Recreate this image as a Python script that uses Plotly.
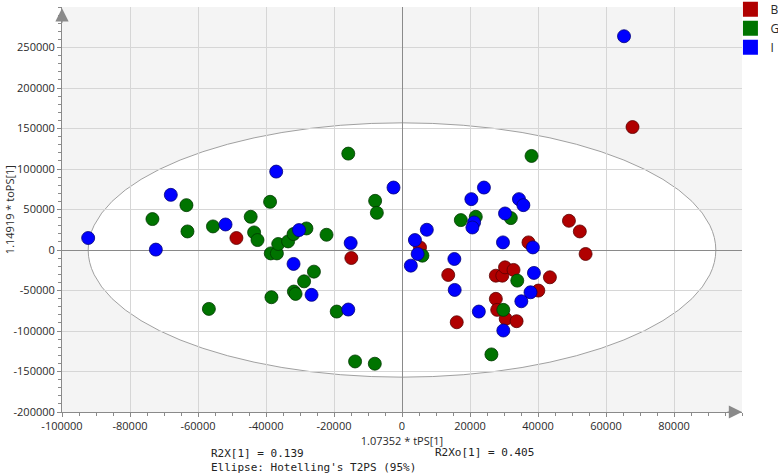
import plotly.graph_objects as go

# ---- data ----
groups = ["B", "G", "I"]
colors = {"B": "#b00000", "G": "#007400", "I": "#0000ff"}
edge_colors = {"B": "#5a0000", "G": "#003800", "I": "#00007a"}

B_x = [67800, -48700, -14900, 49100, 52300, 37200, 54000, 5300, 13600, 27600,
       29500, 30300, 32800, 43500, 40100, 27600, 28000, 30500, 33700, 16100]
B_y = [151800, 14800, -9900, 36100, 22900, 9400, -4900, 3200, -30800, -31700,
       -31700, -21400, -24600, -33700, -50100, -60300, -73900, -85000, -87900, -89200]

G_x = [-63400, -73400, -63100, -55600, -44500, -43500, -42500, -38800, -38600, -36800,
       -36400, -33500, -31900, -28100, -22200, -15800, -7900, -7400, -25900, -28800,
       -31800, -31300, -38400, -56800, -19200, -13800, -8000, 38100, 17300, 21700,
       32000, 6000, 33900, 29800, 26300]
G_y = [55400, 38200, 22900, 29100, 41000, 21700, 12300, 59500, -4200, -4200,
       7400, 10600, 19700, 26600, 18800, 119000, 60700, 45900, -26700, -38700,
       -51300, -54200, -58300, -72700, -76000, -137600, -140400, 116100, 36900, 41000,
       39400, -7000, -37800, -73900, -128900]

I_x = [65300, -92300, -72400, -68000, -51900, -37000, -30300, -31900, -26600, -15800,
       -15100, -2500, 20400, 24100, 34400, 35700, 30300, 21200, 20700, 7300,
       3800, 29700, 38500, 4600, 2600, 15400, 15500, 22600, 29800, 38800,
       37800, 35100]
I_y = [263900, 14800, 500, 68100, 31500, 96800, 24600, -17200, -55400, -73500,
       8600, 77100, 62800, 77100, 62800, 55400, 45100, 34000, 27800, 25000,
       12300, 9400, 3200, -4900, -19300, -11100, -49300, -76000, -99400, -28300,
       -52200, -63300]

x_ticks = [-100000, -80000, -60000, -40000, -20000, 0, 20000, 40000, 60000, 80000]
y_ticks = [-200000, -150000, -100000, -50000, 0, 50000, 100000, 150000, 200000, 250000]

# Hotelling's T2PS (95%) ellipse semi-axes
ellipse_a = 92300
ellipse_b = 157000

x_title = "1.07352 * tPS[1]"
y_title = "1.14919 * toPS[1]"
r2x_text = "R2X[1] = 0.139"
r2xo_text = "R2Xo[1] = 0.405"
ellipse_text = "Ellipse: Hotelling's T2PS (95%)"

series = {"B": (B_x, B_y), "G": (G_x, G_y), "I": (I_x, I_y)}

fig = go.Figure()
for g in groups:
    xs, ys = series[g]
    fig.add_trace(go.Scatter(
        x=xs, y=ys, mode="markers", name=g, showlegend=False,
        marker=dict(size=13, color=colors[g],
                    line=dict(color=edge_colors[g], width=0.8)),
    ))
# legend entries (square swatches)
for g in groups:
    fig.add_trace(go.Scatter(
        x=[None], y=[None], mode="markers", name=g, showlegend=True,
        marker=dict(size=15, symbol="square", color=colors[g],
                    line=dict(color=colors[g], width=0)),
    ))

fig.add_shape(type="circle", xref="x", yref="y",
              x0=-ellipse_a, x1=ellipse_a, y0=-ellipse_b, y1=ellipse_b,
              fillcolor="white", line=dict(color="#a0a0a0", width=1),
              layer="below")

tick_font = dict(family="Open Sans", size=11, color="#2a2a2a")
axis_common = dict(
    showgrid=True, gridcolor="#d6d6d6", gridwidth=1,
    zeroline=True, zerolinecolor="#8a8a8a", zerolinewidth=1,
    showline=True, linecolor="#8a8a8a", linewidth=1,
    ticks="outside", ticklen=4, tickcolor="#8a8a8a",
    tickfont=tick_font, fixedrange=True,
)

fig.update_xaxes(range=[-100000, 100000], tickvals=x_ticks,
                 ticktext=[str(v) for v in x_ticks],
                 minor=dict(dtick=5000, ticklen=3, ticks="outside",
                            tickcolor="#8a8a8a", showgrid=False),
                 title=dict(text=x_title, standoff=3,
                            font=dict(family="Open Sans", size=11, color="#2a2a2a")),
                 **axis_common)
fig.update_yaxes(range=[-200000, 300000], tickvals=y_ticks,
                 ticktext=[str(v) for v in y_ticks],
                 minor=dict(dtick=10000, ticklen=3, ticks="outside",
                            tickcolor="#8a8a8a", showgrid=False),
                 **axis_common)

mono = dict(family="DejaVu Sans Mono", size=11, color="#222222")
annotations = [
    dict(text=y_title, xref="paper", yref="paper", x=-0.077, y=0.5,
         textangle=-90, showarrow=False, xanchor="center", yanchor="middle",
         font=dict(family="Open Sans", size=11, color="#2a2a2a")),
    dict(text=r2x_text + "<br>" + ellipse_text, xref="paper", yref="paper",
         x=0.216, y=-0.1205, xanchor="left", yanchor="middle", align="left",
         showarrow=False, font=mono),
    dict(text=r2xo_text, xref="paper", yref="paper", x=0.546, y=-0.101,
         xanchor="left", yanchor="middle", showarrow=False, font=mono),
    # axis arrows
    dict(text="", xref="paper", yref="paper", x=0, y=0.997, ax=0, ay=16,
         showarrow=True, arrowhead=2, arrowsize=2.2, arrowwidth=1.2,
         arrowcolor="#8a8a8a", standoff=0),
    dict(text="", xref="paper", yref="paper", x=1.0, y=0, ax=-16, ay=0,
         showarrow=True, arrowhead=2, arrowsize=2.2, arrowwidth=1.2,
         arrowcolor="#8a8a8a", standoff=0),
]

fig.update_layout(
    width=778, height=474,
    margin=dict(l=62, r=36, t=7, b=62, autoexpand=False),
    plot_bgcolor="#f4f4f4", paper_bgcolor="white",
    annotations=annotations,
    legend=dict(x=0.983, y=1.03, xanchor="left", yanchor="top",
                bgcolor="rgba(0,0,0,0)", tracegroupgap=0, itemwidth=30,
                font=dict(family="Open Sans", size=12, color="#2a2a2a")),
    font=dict(family="Open Sans"),
)

fig.write_html("out.html", config={"displayModeBar": False},
               post_script="document.body.style.margin='0';document.body.style.overflow='hidden';")
